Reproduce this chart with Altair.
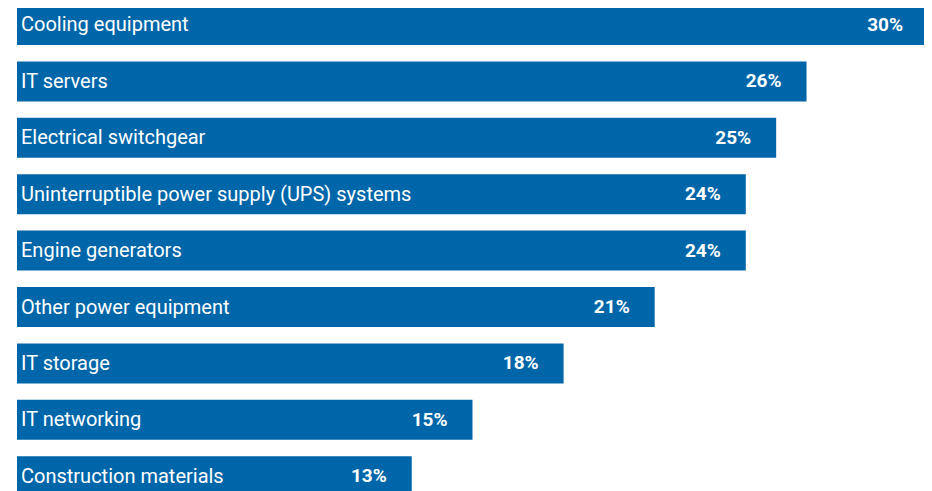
import altair as alt
import pandas as pd

categories = [
    "Cooling equipment",
    "IT servers",
    "Electrical switchgear",
    "Uninterruptible power supply (UPS) systems",
    "Engine generators",
    "Other power equipment",
    "IT storage",
    "IT networking",
    "Construction materials",
]
values = [30, 26, 25, 24, 24, 21, 18, 15, 13]

df = pd.DataFrame({"cat": categories, "val": values})
df["label"] = df["val"].astype(str) + "%"

BLUE = "#0066aa"

y = alt.Y("cat:N", sort=categories, axis=None,
          scale=alt.Scale(range=[-3, 488.2], paddingInner=0.291, paddingOuter=0))
x_scale = alt.Scale(domain=[0, 30], nice=False, zero=True, range=[0, 911])

bars = alt.Chart(df).mark_bar(color=BLUE, cornerRadius=0).encode(
    x=alt.X("val:Q", scale=x_scale, axis=None),
    y=y,
)

names = alt.Chart(df).mark_text(
    align="left", baseline="middle", dx=4, dy=0.5,
    font="Roboto", fontSize=20, color="white",
).encode(
    x=alt.datum(0, scale=x_scale),
    y=y,
    text="cat:N",
)

pct = alt.Chart(df).mark_text(
    align="right", baseline="middle", dx=-25, dy=0,
    font="Roboto", fontWeight="bold", fontSize=19, color="white",
).encode(
    x=alt.X("val:Q", scale=x_scale),
    y=y,
    text="label:N",
)

chart = alt.layer(bars, names, pct).properties(
    width=907, height=483,
    autosize=alt.AutoSizeParams(type="none"),
    padding={"left": 9, "top": 0, "right": 0, "bottom": 0},
    background="white",
).configure_view(stroke=None)

chart.save("out.html", embed_options={"renderer": "svg", "actions": False})
